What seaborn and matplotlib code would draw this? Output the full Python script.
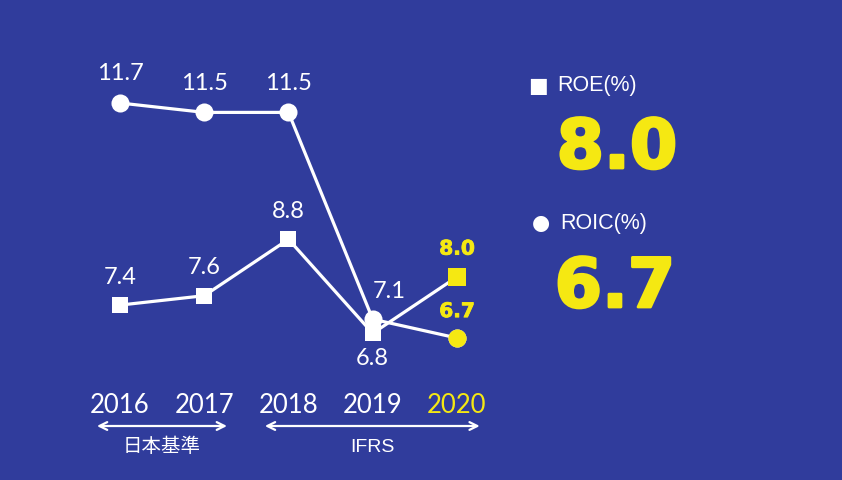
import numpy as np
import pandas as pd
import matplotlib
matplotlib.use('Agg')
import matplotlib.pyplot as plt
import matplotlib.patheffects as pe
import seaborn as sns

# data
years   = [2016, 2017, 2018, 2019, 2020]
roe     = [7.4, 7.6, 8.8, 6.8, 8.0]
roic    = [11.7, 11.5, 11.5, 7.1, 6.7]
year_labels = ['2016', '2017', '2018', '2019', '2020']
roe_name  = 'ROE(%)'
roic_name = 'ROIC(%)'
group_jp   = '日本基準'
group_ifrs = 'IFRS'

bg     = '#303c9c'
yellow = '#f5e812'
white  = '#ffffff'

sns.set_style('white', {'axes.facecolor': bg, 'figure.facecolor': bg})
plt.rcParams['font.family'] = ['Lato', 'Noto Sans CJK JP', 'DejaVu Sans']

df = pd.DataFrame({'year': years, 'ROE': roe, 'ROIC': roic})
last = df.iloc[[-1]]

W, H = 842, 480
fig = plt.figure(figsize=(W/100, H/100), dpi=100)
fig.patch.set_facecolor(bg)
# axes: full width, pixel rows 30..385
ax = fig.add_axes([0, 1-385/H, 1, (385-30)/H])
ax.set_facecolor(bg)

sns.lineplot(data=df, x='year', y='ROE', color=white, linewidth=2.3,
             marker='s', markersize=12, markeredgewidth=0, ax=ax, zorder=3)
sns.lineplot(data=df, x='year', y='ROIC', color=white, linewidth=2.3,
             marker='o', markersize=13, markeredgewidth=0, ax=ax, zorder=4)
sns.scatterplot(data=last, x='year', y='ROIC', color=yellow, marker='o',
                s=170, linewidth=0, ax=ax, zorder=5)
sns.scatterplot(data=last, x='year', y='ROE', color=yellow, marker='s',
                s=150, linewidth=0, ax=ax, zorder=5)

ax.set_xlim(2014.576, 2024.570)
ax.set_ylim(5.7, 13.253)
for s in ax.spines.values():
    s.set_visible(False)
ax.set_yticks([])
ax.set_xticks(years)
ax.set_xticklabels(year_labels, fontsize=18.5, color=white)
ax.get_xticklabels()[-1].set_color(yellow)
ax.tick_params(axis='x', length=0, pad=6)
ax.set_xlabel('')
ax.set_ylabel('')

# value labels
for i, (yr, v) in enumerate(zip(years, roic)):
    if i == len(years) - 1:
        continue
    off = (12, 20) if i == 3 else (0, 21)
    ax.annotate(f'{v:.1f}', (yr, v), xytext=off, textcoords='offset points',
                ha='center', va='center', fontsize=17, color=white)
for i, (yr, v) in enumerate(zip(years, roe)):
    if i == len(years) - 1:
        continue
    dy = -18 if i == 3 else 20
    ax.annotate(f'{v:.1f}', (yr, v), xytext=(0, dy), textcoords='offset points',
                ha='center', va='center', fontsize=17, color=white)

heavy_small = [pe.withStroke(linewidth=0.6, foreground=yellow)]
ax.annotate(f'{roe[-1]:.1f}', (years[-1], roe[-1]), xytext=(0, 20), textcoords='offset points',
            ha='center', va='center', fontsize=14.5, color=yellow, fontweight='bold',
            family=['DejaVu Sans'], path_effects=heavy_small)
ax.annotate(f'{roic[-1]:.1f}', (years[-1], roic[-1]), xytext=(0, 19), textcoords='offset points',
            ha='center', va='center', fontsize=14.5, color=yellow, fontweight='bold',
            family=['DejaVu Sans'], path_effects=heavy_small)

# accounting standard brackets
tr = ax.get_xaxis_transform()
ya = 1 - (426-30)/(385-30)
yt = 1 - (447-30)/(385-30)
for x0, x1, lab in [(2015.727, 2017.27, group_jp), (2017.72, 2020.27, group_ifrs)]:
    ax.annotate('', xy=(x0, ya), xytext=(x1, ya), xycoords=tr, textcoords=tr,
                arrowprops=dict(arrowstyle='<->', color=white, lw=1.6,
                                mutation_scale=14, shrinkA=0, shrinkB=0),
                annotation_clip=False)
    ax.text((x0+x1)/2, yt, lab, transform=tr, ha='center', va='center',
            fontsize=14, color=white, clip_on=False,
            family=['Liberation Sans', 'Noto Sans CJK JP'])

# right side summary
def fx(px):
    return px / W

def fy(py):
    return 1 - py / H

heavy_big = [pe.withStroke(linewidth=2, foreground=yellow)]
fig.text(fx(538), fy(86), '■', fontsize=15, color=white, ha='center', va='center',
         family=['DejaVu Sans'])
fig.text(fx(557), fy(86), roe_name, fontsize=15.5, color=white, ha='left', va='center',
         family=['Liberation Sans'])
fig.text(fx(617), fy(149), f'{roe[-1]:.1f}', fontsize=49, color=yellow, ha='center',
         va='center', fontweight='bold', family=['DejaVu Sans'], path_effects=heavy_big)
fig.text(fx(541), fy(223), '●', fontsize=15, color=white, ha='center', va='center',
         family=['DejaVu Sans'])
fig.text(fx(560), fy(223), roic_name, fontsize=15.5, color=white, ha='left', va='center',
         family=['Liberation Sans'])
fig.text(fx(615), fy(288), f'{roic[-1]:.1f}', fontsize=49, color=yellow, ha='center',
         va='center', fontweight='bold', family=['DejaVu Sans'], path_effects=heavy_big)

fig.savefig('out.png', dpi=100, facecolor=bg)
